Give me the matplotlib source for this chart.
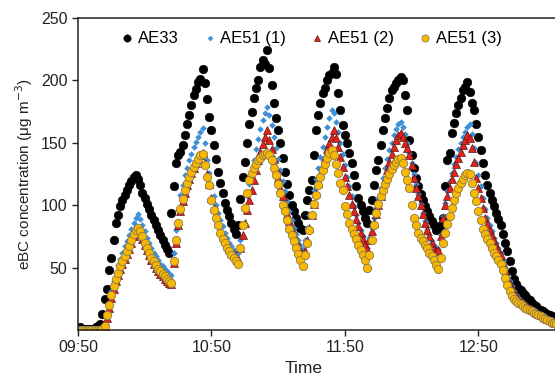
import numpy as np
import pandas as pd
import matplotlib
matplotlib.use("Agg")
import matplotlib.pyplot as plt
import matplotlib.dates as mdates

plt.rcParams['font.family'] = ['Liberation Sans', 'DejaVu Sans']

# one reading per minute, starting 09:50
start_time = "2019-01-01 09:50"

ae33 = [1, 2, 1, 1, 1, 1, 1, 1, 2, 3,
        5, 13, 25, 33, 48, 58, 72, 86, 92, 99, 104, 108, 112, 116, 119, 123, 124, 121,
        116, 110, 106, 101, 97, 92, 88, 84, 80, 76, 72, 68, 65, 62,
        94, 115, 134, 140, 143, 148, 156, 165, 172, 180, 188, 193, 199, 201, 209,
        198, 185, 171, 160, 148, 137, 127, 118, 110, 102, 96, 91, 86, 81, 77,
        84, 105, 123, 135, 150, 165, 175, 186, 194, 200, 211, 216, 213, 224,
        210, 196, 182, 170, 160, 150, 138, 127, 117, 108, 100, 95, 90, 86, 82, 80,
        92, 104, 112, 120, 140, 160, 172, 182, 190, 194, 200, 204, 206, 211,
        205, 190, 176, 164, 156, 150, 142, 134, 124, 115, 106, 100, 95, 90, 86,
        96, 104, 116, 128, 136, 148, 160, 170, 178, 186, 192, 195, 198, 200, 203,
        200, 188, 176, 152, 140, 130, 122, 115, 109, 104, 99, 95, 91, 87, 84, 80, 82,
        84, 90, 115, 136, 142, 158, 166, 174, 180, 186, 192, 195, 199,
        191, 182, 176, 165, 155, 144, 134, 124, 116, 110, 104, 99, 94, 89, 84, 77, 70, 63, 55, 47,
        41, 37, 34, 32, 30, 28, 26, 24, 22, 20, 19, 17, 16, 15, 14, 13, 12, 11, 10, 10]

ae51_1 = [0, 0, 0, 0, 0, 0, 0, 0, 0, 0, 0, 1,
          3, 13, 22, 31, 39, 46, 52, 57, 62, 67, 71, 76, 81, 86, 90, 93,
          89, 84, 79, 74, 70, 66, 62, 59, 56, 53, 51, 49, 47, 45, 44,
          62, 80, 96, 108, 116, 124, 130, 136, 141, 147, 151, 155, 159, 162,
          150, 136, 126, 116, 107, 100, 94, 88, 83, 78, 74, 70, 67, 64, 62, 62,
          72, 84, 96, 107, 117, 127, 136, 145, 153, 161, 168, 174, 179,
          172, 164, 155, 146, 137, 128, 119, 111, 103, 95, 88, 82, 77, 72, 68, 65,
          72, 82, 92, 102, 112, 121, 130, 139, 147, 155, 163, 170, 176,
          174, 167, 159, 150, 141, 132, 123, 115, 107, 99, 92, 86, 80, 75, 70, 66,
          74, 82, 90, 98, 106, 114, 122, 130, 137, 144, 150, 156, 161, 165, 167,
          163, 157, 150, 142, 134, 125, 117, 109, 101, 94, 87, 81, 76, 71, 68, 66, 65,
          76, 91, 102, 111, 119, 126, 133, 139, 145, 150, 155, 159, 163, 165,
          157, 146, 134, 124, 115, 106, 97, 90, 84, 79, 74, 70, 66, 62, 56, 50, 44, 39, 35, 31,
          28, 26, 24, 22, 21, 19, 18, 17, 16, 15, 14, 13, 12, 11, 10, 9, 8, 8, 7]

ae51_2 = [0, 0, 0, 0, 0, 0, 0, 0, 0, 0, 0, 0,
          2, 10, 18, 26, 33, 39, 44, 49, 53, 57, 61, 65, 70, 75, 78, 80,
          77, 73, 68, 64, 60, 56, 53, 50, 47, 45, 43, 41, 39, 38, 37,
          54, 70, 84, 95, 103, 110, 116, 121, 126, 130, 134, 137, 140, 142,
          134, 125, 117, 106, 98, 92, 86, 80, 75, 72, 68, 65, 62, 60, 58, 57,
          66, 76, 86, 96, 104, 112, 120, 128, 136, 143, 149, 155, 160,
          152, 145, 137, 130, 122, 114, 107, 100, 93, 87, 81, 76, 71, 67, 63, 60,
          63, 72, 82, 92, 101, 110, 118, 125, 132, 139, 145, 150, 155,
          160, 154, 147, 139, 131, 123, 115, 108, 101, 95, 89, 83, 78, 73, 69, 65,
          72, 79, 86, 93, 100, 107, 114, 121, 128, 135, 141, 147, 152, 156, 158,
          155, 150, 146, 140, 132, 122, 114, 107, 100, 93, 86, 80, 75, 70, 65, 63, 64,
          75, 90, 100, 107, 114, 121, 127, 133, 138, 143, 148, 152, 156, 154,
          146, 135, 122, 114, 106, 98, 90, 85, 80, 75, 71, 67, 64, 60, 54, 48, 42, 37, 33, 30,
          27, 25, 23, 22, 20, 19, 18, 16, 15, 14, 13, 12, 11, 10, 9, 8, 7, 7, 6]

ae51_3 = [0, 0, 0, 0, 0, 0, 0, 0, 0, 0, 0, 1,
          3, 12, 20, 28, 35, 41, 46, 51, 55, 59, 63, 67, 72, 77, 80, 82,
          79, 75, 70, 66, 62, 58, 55, 52, 49, 47, 45, 43, 41, 39, 38,
          55, 72, 86, 97, 105, 112, 118, 123, 127, 131, 134, 137, 140, 141,
          132, 123, 116, 104, 96, 90, 84, 78, 73, 70, 66, 63, 60, 58, 55, 53,
          66, 84, 98, 110, 120, 126, 130, 133, 136, 138, 140, 141, 142,
          140, 136, 130, 124, 117, 110, 100, 95, 88, 81, 76, 71, 66, 61, 56, 51,
          60, 70, 80, 92, 101, 108, 116, 123, 128, 133, 138, 142, 144,
          140, 133, 126, 118, 112, 99, 93, 86, 81, 77, 73, 68, 64, 60, 56, 50,
          60, 72, 84, 94, 101, 107, 112, 117, 121, 125, 129, 132, 135, 137, 138,
          134, 127, 120, 114, 100, 90, 84, 78, 74, 71, 68, 66, 62, 59, 56, 52, 49,
          58, 70, 78, 85, 91, 98, 104, 110, 114, 118, 121, 124, 126, 125,
          118, 110, 103, 95, 88, 81, 77, 73, 70, 66, 62, 59, 56, 53, 48, 42, 36, 31, 27, 25,
          23, 22, 21, 19, 18, 17, 16, 15, 14, 13, 12, 11, 10, 9, 8, 7, 6, 6, 5]

time = pd.date_range(start_time, periods=len(ae33), freq="min")

fig = plt.figure(figsize=(5.55, 3.77), dpi=100)
ax = fig.add_axes([0.1405, 0.1247, 0.8595, 0.8275])

ax.plot(time, ae33, 'o', color='black', ms=6.3, mec='black', mew=0.3, label='AE33')
ax.plot(time, ae51_1, 'D', color='#3d8fd6', ms=3.0, mec='#3d8fd6', mew=0.3, label='AE51 (1)')
ax.plot(time, ae51_2, '^', color='#e3221c', ms=5.6, mec='#5a1a14', mew=0.5, label='AE51 (2)')
ax.plot(time, ae51_3, 'o', color='#f8b800', ms=6.0, mec='#8c7b50', mew=0.6, label='AE51 (3)')

ax.set_ylim(0, 250)
ax.set_yticks([50, 100, 150, 200, 250])
ax.set_xlim(pd.Timestamp("2019-01-01 09:50"), pd.Timestamp("2019-01-01 13:24:25"))
ax.set_xticks(pd.to_datetime(["2019-01-01 09:50", "2019-01-01 10:50",
                              "2019-01-01 11:50", "2019-01-01 12:50"]))
ax.xaxis.set_major_formatter(mdates.DateFormatter('%H:%M'))

ax.spines['right'].set_visible(False)
for s in ['left', 'bottom', 'top']:
    ax.spines[s].set_linewidth(1.1)
    ax.spines[s].set_color('#222222')
ax.tick_params(labelsize=11.5, colors='#222222', length=4, width=1)

ax.set_ylabel('eBC concentration (μg m$^{-3}$)', fontsize=11, color='#222222')
ax.set_xlabel('Time', fontsize=12.5, color='#222222', labelpad=1)
ax.xaxis.set_label_coords(0.474, -0.1)

ax.legend(loc='upper center', bbox_to_anchor=(0.486, 1.005), ncol=4, frameon=False,
          fontsize=12, handletextpad=0.1, columnspacing=1.3, handlelength=1.1,
          markerscale=0.85)

fig.savefig('out.png', dpi=100)
